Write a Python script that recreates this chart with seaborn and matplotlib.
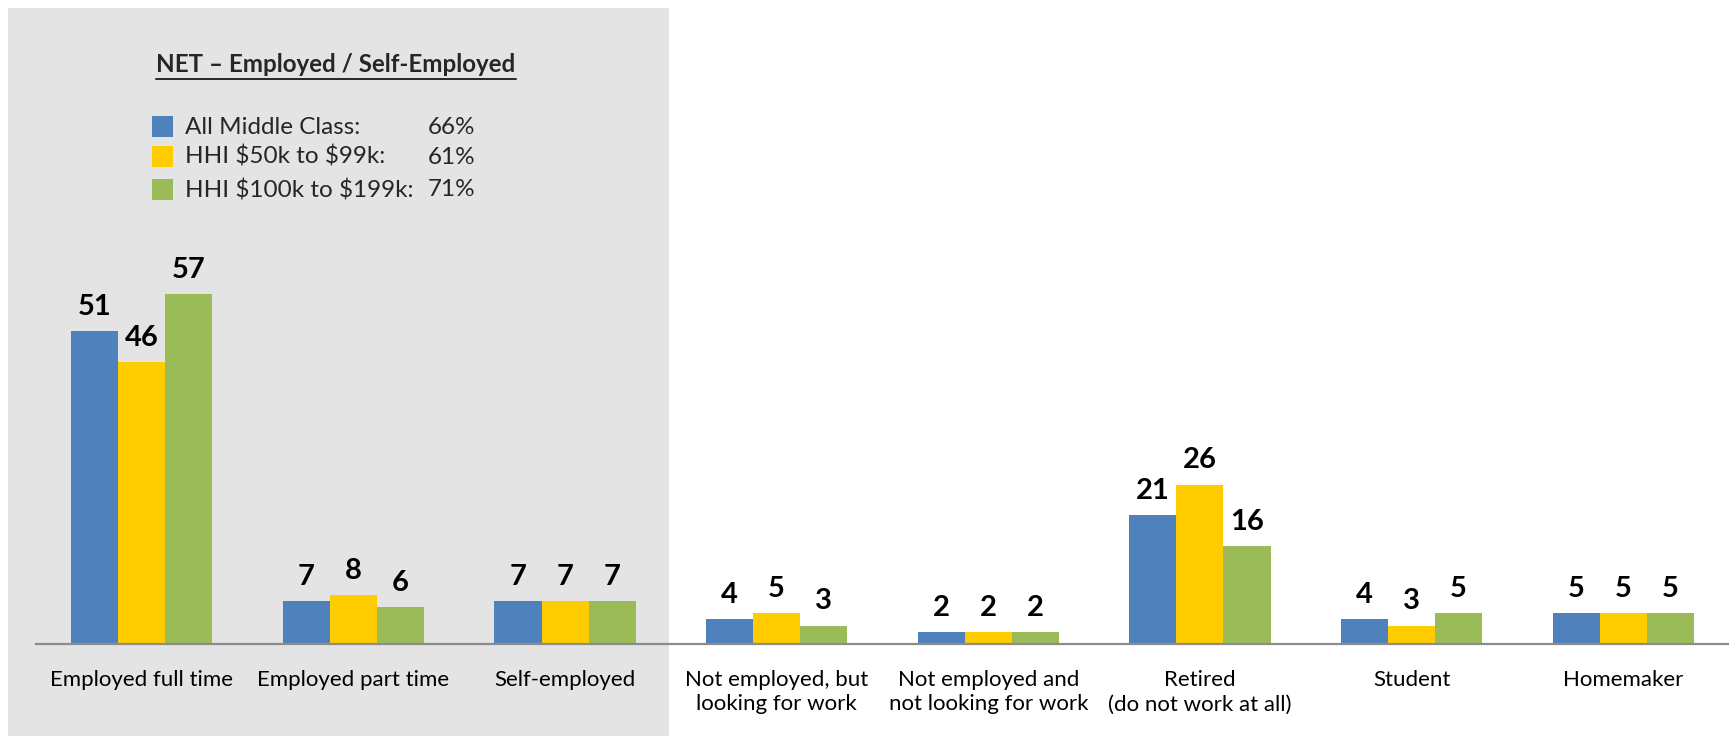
import matplotlib
matplotlib.use("Agg")
import matplotlib.pyplot as plt
from matplotlib.patches import Rectangle
from matplotlib.lines import Line2D
import seaborn as sns
import pandas as pd

# --- data -------------------------------------------------------------
categories = [
    "Employed full time",
    "Employed part time",
    "Self-employed",
    "Not employed, but\nlooking for work",
    "Not employed and\nnot looking for work",
    "Retired\n(do not work at all)",
    "Student",
    "Homemaker",
]
series = ["All Middle Class:", "HHI $50k to $99k:", "HHI $100k to $199k:"]
all_middle_class = [51, 7, 7, 4, 2, 21, 4, 5]
hhi_50_99 = [46, 8, 7, 5, 2, 26, 3, 5]
hhi_100_199 = [57, 6, 7, 3, 2, 16, 5, 5]
net_employed = [66, 61, 71]
net_title = "NET \u2013 Employed / Self-Employed"

colors = ["#4F81BD", "#FFCC00", "#9BBB59"]

df = pd.DataFrame({
    "category": categories * 3,
    "series": [series[0]] * 8 + [series[1]] * 8 + [series[2]] * 8,
    "value": all_middle_class + hhi_50_99 + hhi_100_199,
})

# --- figure -----------------------------------------------------------
sns.set_theme(style="white")
plt.rcParams["font.family"] = ["Lato", "DejaVu Sans"]

W, H = 1729, 736
fig = plt.figure(figsize=(W / 100, H / 100), dpi=100)
fig.patch.set_facecolor("white")

# shaded panel behind the employed groups
fig.add_artist(Rectangle((8 / W, 0), (669 - 8) / W, (H - 8) / H,
                         transform=fig.transFigure, facecolor="#E4E4E4",
                         edgecolor="none", zorder=0))

ax = fig.add_axes([36 / W, 92 / H, 1693 / W, 636 / H])
ax.patch.set_alpha(0)

sns.barplot(data=df, x="category", y="value", hue="series",
            palette=colors, width=0.667, dodge=True, ax=ax,
            linewidth=0, saturation=1, legend=False)

for cont in ax.containers:
    ax.bar_label(cont, fmt="%d", padding=8, fontsize=21,
                 fontweight="bold", color="black")

ax.set_xlim(-0.5, 7.5)
ax.set_ylim(0, 103.7)
ax.set_xlabel("")
ax.set_ylabel("")
ax.set_yticks([])
ax.tick_params(axis="x", length=0, pad=19, labelsize=16, labelcolor="black")
for lab in ax.get_xticklabels():
    lab.set_linespacing(1.25)
for s in ["top", "right", "left"]:
    ax.spines[s].set_visible(False)
ax.spines["bottom"].set_color("#8C8C8C")
ax.spines["bottom"].set_linewidth(1.6)

# --- NET legend block -------------------------------------------------
title = fig.text(336 / W, 1 - 64 / H, net_title, ha="center", va="center",
                 fontsize=17.4, fontweight="bold", color="#262626")
fig.canvas.draw()
bb = title.get_window_extent(fig.canvas.get_renderer())
fig.add_artist(Line2D([bb.x0 / W, bb.x1 / W], [(bb.y0 - 3) / H] * 2,
                      transform=fig.transFigure, color="#262626", lw=1.4))

row_y = [127, 157, 190]
for y, name, pct, c in zip(row_y, series, net_employed, colors):
    fig.add_artist(Rectangle((152 / W, 1 - (y + 10) / H), 21 / W, 21 / H,
                             transform=fig.transFigure, facecolor=c,
                             edgecolor="none"))
    fig.text(185 / W, 1 - y / H, name, ha="left", va="center",
             fontsize=17.5, color="#262626", parse_math=False)
    fig.text(428 / W, 1 - y / H, f"{pct}%", ha="left", va="center",
             fontsize=17.5, color="#262626")

fig.savefig("out.png", dpi=100)
